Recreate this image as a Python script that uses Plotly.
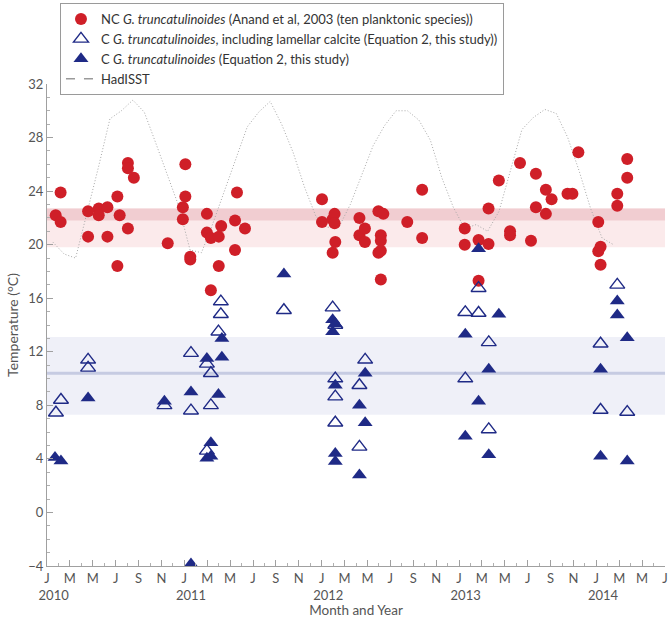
import plotly.graph_objects as go

# x positions are months since January 2010 (0 = start of Jan 2010)

# Non-calcified G. truncatulinoides (Anand et al. 2003 calibration)
nc_month = [0.76, 1.19, 1.19, 3.59, 3.59, 4.52, 4.52, 5.28, 5.28, 6.15, 6.15, 6.35,
            7.07, 7.07, 7.07, 7.59, 10.55, 11.87, 11.87, 12.09, 12.09, 12.52, 12.52,
            13.97, 13.97, 14.32, 14.32, 15.01, 15.01, 15.22, 16.43, 16.43, 16.6, 17.3,
            24.03, 24.03, 24.96, 24.96, 25.13, 25.13, 25.19, 27.3, 27.3, 27.78, 27.78,
            28.96, 28.96, 29.17, 29.17, 29.17, 29.17, 29.39, 31.48, 32.78, 32.78,
            36.5, 36.5, 37.71, 37.71, 38.58, 38.58, 39.48, 40.46, 40.46, 41.33, 42.29,
            42.72, 42.72, 43.59, 43.59, 44.09, 45.48, 45.91, 46.43, 48.17, 48.17,
            48.37, 48.37, 49.83, 49.83, 50.7, 50.7]
nc_temp = [22.2, 23.9, 21.7, 22.5, 20.6, 22.7, 22.2, 22.8, 20.6, 23.6, 18.4, 22.2,
           26.1, 25.7, 21.2, 25.0, 20.1, 22.8, 21.9, 26.0, 23.6, 19.1, 18.9,
           22.3, 20.9, 20.5, 16.6, 20.6, 18.4, 21.4, 21.8, 19.6, 23.9, 21.2,
           23.4, 21.7, 21.9, 19.4, 22.3, 21.6, 20.2, 22.0, 20.7, 21.2, 20.2,
           22.5, 19.4, 20.7, 20.3, 19.55, 17.4, 22.3, 21.7, 24.1, 20.5,
           21.2, 20.0, 20.35, 17.3, 22.7, 20.05, 24.8, 21.0, 20.7, 26.1, 20.3,
           25.3, 22.8, 24.1, 22.3, 23.4, 23.8, 23.8, 26.9, 21.7, 19.5,
           19.85, 18.5, 23.8, 22.9, 26.4, 25.0]

# Calcified, including lamellar calcite (Equation 2)
lam_month = [0.78, 1.22, 3.59, 3.59, 10.26, 12.58, 12.58, 13.97, 13.97, 14.32, 14.32,
             14.98, 15.19, 15.19, 20.7, 24.96, 25.19, 25.19, 25.19, 25.19, 27.3, 27.3,
             27.8, 36.55, 36.55, 37.71, 37.71, 38.6, 38.6, 48.37, 48.37, 49.83, 50.7]
lam_temp = [7.45, 8.4, 11.4, 10.8, 8.0, 11.9, 7.6, 11.1, 4.6, 10.4, 8.0,
            13.5, 15.75, 14.8, 15.1, 15.3, 14.0, 10.0, 8.65, 6.7, 9.5, 4.9,
            11.4, 14.95, 10.0, 16.75, 14.9, 12.7, 6.2, 12.6, 7.65, 17.0, 7.5]

# Calcified (Equation 2)
c_month = [0.7, 1.22, 3.59, 10.26, 12.58, 12.58, 13.97, 13.97, 14.32, 14.32, 14.98,
           15.28, 15.28, 20.7, 24.96, 24.96, 25.19, 25.19, 25.19, 25.19, 27.3, 27.3,
           27.8, 27.8, 36.55, 36.55, 37.71, 37.71, 38.6, 38.6, 39.48, 48.37, 48.37,
           49.83, 49.83, 50.7, 50.7]
c_temp = [4.1, 3.85, 8.55, 8.3, 9.0, -3.85, 11.5, 4.05, 5.2, 4.2, 8.8,
          13.0, 11.6, 17.8, 14.4, 13.5, 14.1, 9.5, 4.4, 3.8, 8.0, 2.8,
          10.4, 6.7, 13.3, 5.7, 19.7, 8.3, 10.7, 4.3, 14.8, 10.7, 4.2,
          15.8, 14.75, 13.05, 3.85]

# HadISST monthly sea surface temperature, Jan 2010 - Feb 2014
hadisst_temp = [20.2, 19.3, 19.0, 22.3, 25.8, 29.4, 30.0, 30.8, 29.9, 27.6, 25.3, 22.9,
                19.6, 19.4, 21.6, 24.0, 26.3, 28.8, 29.9, 30.7, 29.0, 26.9, 24.3, 22.1,
                21.3, 21.3, 23.0, 25.2, 27.4, 28.9, 30.0, 30.0, 29.3, 27.8, 25.0, 22.8,
                21.2, 21.5, 21.0, 22.5, 25.6, 28.6, 29.5, 30.1, 29.8, 28.0, 25.5, 22.7,
                20.5, 20.0]
hadisst_month = [k + 0.5 for k in range(len(hadisst_temp))]

# Reference bands (°C)
nc_band = (19.8, 22.7)
nc_band_core = (21.8, 22.7)
c_band = (7.3, 13.1)
c_mean = 10.4

month_ticks = list(range(0, 55, 2))
month_letters = ["J", "M", "M", "J", "S", "N"] * 4 + ["J", "M", "M", "J"]
years = ["2010", "2011", "2012", "2013", "2014"]
X_MAX = 54

# January ticks carry the year on a second line (nudged right with no-break spaces)
NBSP = "\u00a0"
month_labels = []
for tick, letter in zip(month_ticks, month_letters):
    if tick % 12 == 0 and tick // 12 < len(years):
        month_labels.append(f"{letter}<br>{NBSP * 4}{years[tick // 12]}")
    else:
        month_labels.append(letter)

RED = "#cf1f28"
NAVY = "#1f2a86"
FONT = "Lato"

fig = go.Figure()

fig.add_trace(go.Scatter(
    x=hadisst_month, y=hadisst_temp, mode="lines",
    line=dict(color="#a8a8a8", width=1, dash="1px,2px"),
    showlegend=False, hoverinfo="skip"))

fig.add_trace(go.Scatter(
    x=nc_month, y=nc_temp, mode="markers",
    marker=dict(symbol="circle", size=12, color=RED),
    name="NC <i>G. truncatulinoides</i> (Anand et al, 2003 (ten planktonic species))"))

fig.add_trace(go.Scatter(
    x=lam_month, y=lam_temp, mode="markers",
    marker=dict(symbol="triangle-up-open", size=13, color=NAVY, line=dict(width=1.4, color=NAVY)),
    name="C <i>G. truncatulinoides</i>, including lamellar calcite (Equation 2, this study))"))

fig.add_trace(go.Scatter(
    x=c_month, y=c_temp, mode="markers",
    marker=dict(symbol="triangle-up", size=13, color=NAVY),
    name="C <i>G. truncatulinoides</i> (Equation 2, this study)"))

# legend key for the SST curve
fig.add_trace(go.Scatter(
    x=[None], y=[None], mode="lines",
    line=dict(color="#9a9a9a", width=1.5, dash="dash"), name="HadISST"))

shapes = [
    dict(type="rect", xref="paper", x0=0, x1=1, yref="y", y0=nc_band[0], y1=nc_band[1],
         fillcolor="#fbeaeb", line=dict(width=0), layer="below"),
    dict(type="rect", xref="paper", x0=0, x1=1, yref="y", y0=nc_band_core[0], y1=nc_band_core[1],
         fillcolor="#f1cdd1", line=dict(width=0), layer="below"),
    dict(type="rect", xref="paper", x0=0, x1=1, yref="y", y0=c_band[0], y1=c_band[1],
         fillcolor="#eff0f8", line=dict(width=0), layer="below"),
    dict(type="line", xref="paper", x0=0, x1=1, yref="y", y0=c_mean, y1=c_mean,
         line=dict(color="#c6cbe2", width=3), layer="below"),
]

fig.update_layout(
    width=671, height=620,
    margin=dict(l=47, r=3, t=84, b=54),
    paper_bgcolor="white", plot_bgcolor="white",
    font=dict(family=FONT, size=13, color="#555"),
    shapes=shapes,
    legend=dict(x=0.021, y=1.168, xanchor="left", yanchor="top",
                bordercolor="#9a9a9a", borderwidth=1, bgcolor="white",
                font=dict(family=FONT, size=13, color="#333"),
                tracegroupgap=0, itemwidth=30),
    xaxis=dict(range=[0, X_MAX], tickvals=month_ticks, ticktext=month_labels,
               showgrid=False, zeroline=False, showline=True, linecolor="#a0a0a0",
               ticks="inside", ticklen=6, tickcolor="#a0a0a0", tickangle=0,
               minor=dict(dtick=1, tick0=0, ticks="inside", ticklen=3, tickcolor="#b0b0b0"),
               tickfont=dict(family=FONT, size=13, color="#555"),
               title=dict(text="Month and Year", font=dict(family=FONT, size=13.5, color="#555"),
                          standoff=0)),
    yaxis=dict(range=[-4, 32], tickvals=list(range(-4, 33, 4)),
               showgrid=False, zeroline=False, showline=True, linecolor="#a0a0a0",
               ticks="inside", ticklen=6, tickcolor="#a0a0a0",
               minor=dict(dtick=1, tick0=0, ticks="inside", ticklen=3, tickcolor="#b0b0b0"),
               tickfont=dict(family=FONT, size=13, color="#555"),
               title=dict(text="Temperature (°C)", font=dict(family=FONT, size=14, color="#555"),
                          standoff=6)),
)

fig.write_html("out.html")
